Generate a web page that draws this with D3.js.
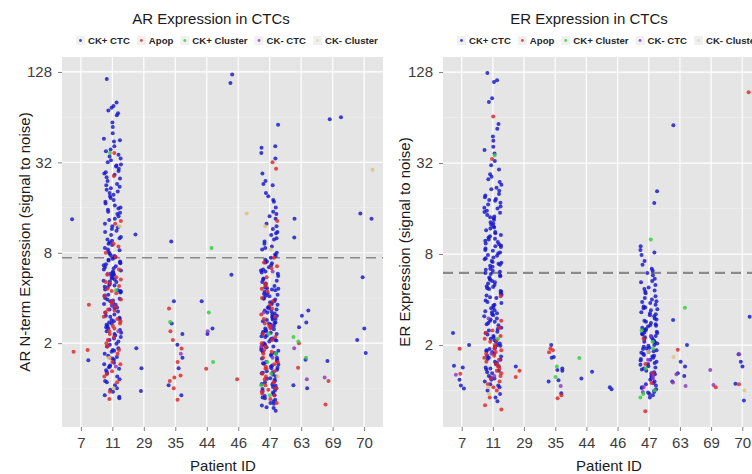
<!DOCTYPE html>
<html><head><meta charset="utf-8">
<script src="https://cdn.jsdelivr.net/npm/d3@7"></script>
<style>
html,body{margin:0;padding:0;background:#fff;}
svg{display:block;font-family:"Liberation Sans",Arial,sans-serif;}
</style></head>
<body>
<svg id="chart" width="752" height="474"></svg>
<script>
// ---------- data ----------
const patients = ["7","11","29","35","44","46","47","63","69","70"];
const groups = ["CK+ CTC","Apop","CK+ Cluster","CK- CTC","CK- Cluster"];
const yTicks = [2, 8, 32, 128];
const yMinorTicks = [1, 4, 16, 64];
const arThreshold = 7.4;
const erThreshold = 6.0;

// AR panel: one sub-array per patient (same order as `patients`)
const arCkPosCtc = [
 [13.4, 1.54],
 [115,80,76,74,71,68,66,59,55,50,46,44,41,39,36,35,33,32,31,30,29,28,27,26.5,25,24,23,22.5,22,21,20,19.5,19,18.5,18,17,16.5,16,15.5,15,14.5,14,13.5,12.5,12,11.8,11.2,11,10.5,10.2,10,9.6,9.4,9,8.6,8.3,8.1,7.9,7.6,7.4,7.3,7.1,7.0,6.8,6.7,6.5,6.4,6.1,6.0,5.8,5.7,5.6,5.4,5.2,5.1,4.9,4.7,4.5,4.4,4.2,4.0,3.85,3.8,3.6,3.45,3.4,3.1,3.05,2.85,2.8,2.65,2.5,2.45,2.3,2.25,2.05,1.95,1.85,1.75,1.65,1.55,1.45,1.4,1.35,1.25,1.15,1.05,1.0,0.9,7.5,6.9,6.3,5.9,5.3,4.85,4.45,3.95,3.65,3.25,2.95,2.75,2.55,2.35,2.15,1.98,1.78,1.62,1.48,1.38,1.28,1.12,0.98,0.88,
  7.7,7.2,6.6,6.2,5.75,5.45,5.15,4.95,4.75,4.55,4.35,4.15,3.9,3.72,3.55,3.35,3.2,3.0,2.9,2.7,2.6,2.4,2.2,2.1,1.9,1.8,1.7,1.58,1.42,1.32,1.2,1.1,0.95,0.86,45,38,34,30.5,27.5,25.5,21.5,20.5,17.5,15.8,14.8,13.2,11.5,9.8,9.2,8.4],
 [10.6, 1.85, 1.36, 0.96],
 [9.5, 3.8, 2.7, 2.3, 1.95, 1.6, 1.36, 1.05, 0.9],
 [3.8, 2.5, 2.3],
 [108, 123, 5.7],
 [57,41,40,37,34,27,24,23,22.5,19,17.5,16,15,14.5,14,13.5,12.5,12,11.5,11,10.5,10,9.5,9.2,8.8,8.4,8.0,7.8,7.6,7.2,7.0,6.8,6.6,6.4,6.2,6.0,5.8,5.6,5.4,5.2,5.0,4.9,4.8,4.7,4.6,4.5,4.4,4.3,4.2,4.1,4.0,3.9,3.8,3.7,3.6,3.5,3.4,3.3,3.2,3.1,3.0,2.95,2.9,2.85,2.8,2.75,2.7,2.6,2.55,2.5,2.45,2.4,2.35,2.3,2.25,2.2,2.15,2.1,2.05,2.0,1.95,1.9,1.85,1.8,1.75,1.7,1.65,1.6,1.55,1.5,1.47,1.44,1.4,1.37,1.33,1.3,1.27,1.23,1.2,1.17,1.14,1.1,1.07,1.04,1.0,0.97,0.94,0.9,0.87,0.84,0.8,0.77,0.74,0.71,6.9,6.1,5.3,4.65,4.15,3.75,3.35,3.05,2.65,2.38,2.12,1.92,1.72,1.58,1.42,1.28,1.12,0.99,0.92,0.86,0.79,
  5.9,5.1,4.55,4.25,3.95,3.65,3.45,3.25,3.15,2.97,2.88,2.72,2.62,2.48,2.32,2.22,2.08,1.97,1.88,1.78,1.68,1.52,1.46,1.36,1.26,1.16,1.06,1.02,0.96,0.89,0.82,0.75,20,18,10.8,9.8,8.6,7.4],
 [13.5, 10.1, 3.3, 3.05, 2.75, 2.55, 1.55, 1.05, 1.0],
 [62, 64, 1.52],
 [13.5, 14.6, 5.5, 2.5, 2.1, 1.72]
];
const arApop = [
 [3.6, 1.8, 1.75],
 [37,26,13,12.5,9.2,8.8,8.0,7.5,6.2,5.5,5.3,5.0,4.8,4.6,4.3,4.1,3.9,3.7,3.5,3.3,3.2,3.0,2.9,2.7,2.6,2.4,2.3,2.2,2.1,1.9,1.8,1.7,1.6,1.5,1.3,1.2,1.1,0.95,0.85,5.7,5.1,4.45,3.8,3.35,2.8,2.5,2.0,1.45,1.25],
 [],
 [3.4, 2.4, 2.1, 1.84, 1.5, 1.22, 1.18, 1.12, 1.0, 0.84],
 [1.35],
 [1.15],
 [32,29,13,7.4,6.9,6.5,6.3,5.5,5.0,4.6,4.4,4.0,3.6,3.4,3.1,2.9,2.7,2.5,2.3,2.2,2.0,1.9,1.8,1.7,1.6,1.5,1.4,1.3,1.25,1.2,1.15,1.05,1.0,0.95,0.9,0.85,4.8,3.8,3.0,2.6,2.1,1.75,1.45,1.35,1.1,0.98,0.92,0.8],
 [2.0, 1.37],
 [1.12, 0.78],
 []
];
const arCkPosCluster = [[], [37, 4.5], [], [2.77], [8.6, 3.2, 1.5], [], [2.3, 1.7, 1.5, 1.25, 1.05, 0.9], [2.2, 2.05, 1.6], [], []];
const arCkNegCtc = [[], [5.8, 3.6, 2.4, 1.4], [], [1.7], [2.4], [], [6.0, 3.2, 2.6, 1.9, 1.6, 1.35, 1.1, 0.95], [1.85, 1.15], [1.18], []];
const arCkNegCluster = [[], [12, 1.6, 1.0], [], [], [], [14.6], [12, 8.4, 1.2], [], [], [28.6]];

// ER panel
const erCkPosCtc = [
 [2.4, 2.0, 1.46, 1.42, 1.18, 1.08, 1.03],
 [126,113,110,86,81,58,54,48,45,41,39,37,33,31,29,27,26,25,23,22,21,20,19,18,17.5,17,16,15.5,15,14.5,14,13.5,13,12.5,12,11.5,11,10.7,10.3,10,9.6,9.3,9,8.7,8.4,8.1,7.8,7.5,7.2,7.0,6.8,6.6,6.4,6.2,6.0,5.8,5.6,5.4,5.2,5.0,4.85,4.7,4.55,4.4,4.25,4.1,3.95,3.8,3.65,3.5,3.4,3.3,3.2,3.1,3.0,2.9,2.8,2.7,2.6,2.5,2.4,2.3,2.2,2.1,2.0,1.95,1.9,1.85,1.8,1.75,1.7,1.65,1.6,1.55,1.5,1.45,1.4,1.35,1.3,1.25,1.2,1.15,1.1,1.05,1.0,0.95,0.9,0.85,19.5,18.5,16.5,14.2,12.2,11.2,10.1,9.1,8.2,7.4,6.9,6.1,5.5,4.9,4.3,3.7,3.25,2.85,2.45,2.15,1.88,1.62,1.42,1.22,
  24,21.5,18.2,16.2,15.2,13.8,12.8,11.8,10.5,9.8,9.4,8.9,8.5,7.9,7.6,7.1,6.7,6.3,5.9,5.7,5.3,5.1,4.75,4.5,4.15,3.85,3.55,3.35,3.15,2.95,2.75,2.55,2.35,2.25,2.05,1.98,1.82,1.68,1.52,1.38,1.32,1.18,1.08],
 [1.44],
 [2.0, 1.67, 1.65, 1.4, 1.37, 1.35, 1.17, 1.15, 0.96],
 [1.2, 1.33],
 [1.05, 1.02],
 [20.8,17.4,9.0,8.5,8.2,7.9,7.2,6.8,6.4,6.0,5.8,5.5,5.3,5.0,4.8,4.6,4.4,4.2,4.0,3.9,3.8,3.7,3.6,3.5,3.4,3.3,3.2,3.1,3.0,2.9,2.85,2.8,2.7,2.65,2.6,2.5,2.45,2.4,2.35,2.3,2.25,2.2,2.15,2.1,2.05,2.0,1.95,1.9,1.85,1.8,1.75,1.7,1.65,1.6,1.55,1.5,1.45,1.4,1.35,1.3,1.25,1.2,1.15,1.1,1.05,1.0,0.97,0.93,0.9,4.7,4.1,3.55,3.15,2.75,2.55,2.42,2.28,2.12,1.98,1.88,1.78,1.68,1.58,1.48,1.38,1.28,1.18,1.08,1.02,
  4.5,3.85,3.45,3.25,2.95,2.68,2.52,2.38,2.22,2.08,1.92,1.82,1.72,1.62,1.52,1.42,1.32,1.22,1.12,1.04,0.98,0.95,5.2,6.2],
 [57, 2.93, 2.0, 1.55, 1.44, 1.3, 1.25, 1.15],
 [],
 [3.08, 1.74, 1.55, 1.44, 1.11, 0.86]
];
const erApop = [
 [1.89, 1.29],
 [65,34,4.2,2.9,2.6,2.4,2.3,2.2,2.1,2.0,1.9,1.85,1.8,1.7,1.6,1.55,1.5,1.4,1.35,1.3,1.2,1.15,1.1,1.0,0.8,0.75,2.5,2.15,1.95,1.75,1.65,1.45,1.25,1.05,0.9],
 [1.35, 1.23],
 [1.79, 1.9, 1.85, 0.93, 0.89],
 [],
 [],
 [2.2, 1.5, 1.3, 1.12, 0.73],
 [1.86],
 [1.05],
 [94, 1.10]
];
const erCkPosCluster = [[], [36, 2.2], [], [1.44, 1.23], [1.64], [], [10, 2.5, 2.1, 1.9, 1.4, 1.0, 0.95, 0.9], [3.53], [], []];
const erCkNegCtc = [[1.27], [3.0, 1.75, 1.25], [], [1.07], [], [], [2.3, 1.6, 1.2, 1.05, 0.98, 1.25], [1.28, 1.13, 1.07], [1.37, 1.09], [1.74]];
const erCkNegCluster = [[], [1.05, 0.95], [], [], [], [], [1.8], [1.67], [], [1.0]];

// ---------- styling ----------
const groupColor = {"CK+ CTC":"#1616cc","Apop":"#e02525","CK+ Cluster":"#2fcf3a","CK- CTC":"#8a36c4","CK- Cluster":"#d8c47a"};
const drawOrder = ["CK+ CTC","CK- CTC","Apop","CK+ Cluster","CK- Cluster"];

// deterministic horizontal jitter (hash of the point's index)
function jitter(k, pi, gi){
  const s = Math.sin(k * 12.9898 + pi * 78.233 + gi * 37.719) * 43758.5453;
  return (s - Math.floor(s)) * 2 - 1;
}

const svg = d3.select("#chart");

function panel(cfg){
  const g = svg.append("g");
  const x = d3.scalePoint().domain(patients).range([cfg.left, cfg.right]).padding(0.6);
  const y = d3.scaleLog().base(2).domain(cfg.domain).range([427, 57]);
  const step = x.step();

  g.append("rect").attr("x", cfg.left).attr("y", 57)
    .attr("width", cfg.right - cfg.left).attr("height", 370).attr("fill", "#e5e5e5");

  g.selectAll(".ymin").data(yMinorTicks).enter().append("line")
    .attr("x1", cfg.left).attr("x2", cfg.right)
    .attr("y1", d => y(d)).attr("y2", d => y(d))
    .attr("stroke", "#f2f2f2").attr("stroke-width", 0.6);
  g.selectAll(".ymaj").data(yTicks).enter().append("line")
    .attr("x1", cfg.left).attr("x2", cfg.right)
    .attr("y1", d => y(d)).attr("y2", d => y(d))
    .attr("stroke", "#fff").attr("stroke-width", 1.2);
  g.selectAll(".xmaj").data(patients).enter().append("line")
    .attr("x1", d => x(d)).attr("x2", d => x(d))
    .attr("y1", 57).attr("y2", 427)
    .attr("stroke", "#fff").attr("stroke-width", 1.2);

  g.append("line").attr("x1", cfg.left).attr("x2", cfg.right)
    .attr("y1", y(cfg.threshold)).attr("y2", y(cfg.threshold))
    .attr("stroke", "#8a8a8a").attr("stroke-width", cfg.dashW).attr("stroke-dasharray", "10,6");

  const pts = [];
  const counter = patients.map(() => 0);
  drawOrder.forEach(grp => {
    const gi = groups.indexOf(grp);
    cfg.series[gi].forEach((vals, pi) => {
      vals.forEach(v => {
        const k = counter[pi]++;
        pts.push({grp, p: patients[pi], v, dx: jitter(k, pi, gi) * 0.28 * step});
      });
    });
  });
  g.append("g").selectAll("circle").data(pts).enter().append("circle")
    .attr("cx", d => x(d.p) + d.dx).attr("cy", d => y(d.v))
    .attr("r", 2.0).attr("fill", d => groupColor[d.grp]).attr("fill-opacity", 0.82);

  const xa = g.append("g").attr("transform", "translate(0,427)")
    .call(d3.axisBottom(x).tickSize(4).tickPadding(6));
  xa.select(".domain").remove();
  xa.selectAll("line").attr("stroke", "#7f7f7f");
  xa.selectAll("text").attr("font-size", 15).attr("fill", "#3d3d3d")
    .attr("font-family", "Liberation Sans, Arial, sans-serif");

  const ya = g.append("g").attr("transform", `translate(${cfg.left},0)`)
    .call(d3.axisLeft(y).tickValues(yTicks).tickFormat(d3.format("d")).tickSize(4).tickPadding(6));
  ya.select(".domain").remove();
  ya.selectAll("line").attr("stroke", "#7f7f7f");
  ya.selectAll("text").attr("font-size", 15).attr("fill", "#3d3d3d")
    .attr("font-family", "Liberation Sans, Arial, sans-serif");

  g.append("text").attr("x", cfg.titleX).attr("y", 24).attr("text-anchor", "middle")
    .attr("font-size", 15).attr("fill", "#1a1a1a").text(cfg.title);
  g.append("text").attr("x", cfg.xTitleX).attr("y", 471).attr("text-anchor", "middle")
    .attr("font-size", 15).attr("fill", "#1a1a1a").text("Patient ID");
  g.append("text").attr("transform", `translate(${cfg.yTitleX},242) rotate(-90)`)
    .attr("text-anchor", "middle").attr("font-size", 15).attr("fill", "#1a1a1a").text(cfg.yTitle);

  let lx = cfg.legendX;
  groups.forEach(grp => {
    const lg = g.append("g");
    lg.append("rect").attr("x", lx).attr("y", 36).attr("width", 9).attr("height", 9).attr("fill", "#f0f0f0");
    lg.append("circle").attr("cx", lx + 4.5).attr("cy", 40.5).attr("r", 1.4)
      .attr("fill", groupColor[grp]).attr("fill-opacity", grp === "CK- Cluster" ? 0.45 : 0.8);
    const t = lg.append("text").attr("x", lx + 12).attr("y", 44)
      .attr("font-size", 9.6).attr("font-weight", "bold").attr("fill", "#262626").text(grp);
    lx = lx + 12 + t.node().getComputedTextLength() + 7;
  });
}

panel({left: 62, right: 383, domain: [0.553, 161], threshold: arThreshold, dashW: 1.5,
  series: [arCkPosCtc, arApop, arCkPosCluster, arCkNegCtc, arCkNegCluster],
  title: "AR Expression in CTCs", titleX: 211, xTitleX: 223, yTitleX: 30,
  yTitle: "AR N-term Expression (signal to noise)", legendX: 76});
panel({left: 443, right: 761, domain: [0.574, 161], threshold: erThreshold, dashW: 2.2,
  series: [erCkPosCtc, erApop, erCkPosCluster, erCkNegCtc, erCkNegCluster],
  title: "ER Expression in CTCs", titleX: 589, xTitleX: 609, yTitleX: 410,
  yTitle: "ER Expression (signal to noise)", legendX: 457});
</script>
</body></html>
